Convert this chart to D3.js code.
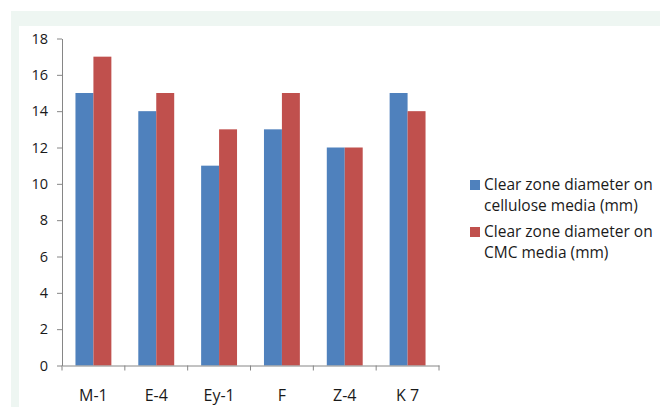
<!DOCTYPE html>
<html><head><meta charset="utf-8">
<script src="https://cdn.jsdelivr.net/npm/d3@7"></script>
<style>
html,body{margin:0;padding:0;background:#fff;}
svg{display:block;font-family:"Open Sans",sans-serif;}
</style></head>
<body>
<svg id="chart" width="660" height="407"></svg>
<script>
const categories = ["M-1","E-4","Ey-1","F","Z-4","K 7"];
const cellulose = [15,14,11,13,12,15];
const cmc = [17,15,13,15,12,14];
const legendLines = [["Clear zone diameter on","cellulose media (mm)"],["Clear zone diameter on","CMC media (mm)"]];
const yTicks = [0,2,4,6,8,10,12,14,16,18];
const colors = ["#4F81BD","#C0504D"];

const svg = d3.select("#chart");
// background panel
svg.append("rect").attr("x",11).attr("y",11).attr("width",649).attr("height",396).attr("fill","#eef6f2");
svg.append("rect").attr("x",19).attr("y",26).attr("width",641).attr("height",381).attr("fill","#ffffff");

const x0 = 62, x1 = 439, yTop = 38.5, yBot = 365.5;
const x = d3.scaleBand().domain(categories).range([x0,x1]).paddingInner(0).paddingOuter(0);
const y = d3.scaleLinear().domain([0,18]).range([yBot,yTop]);

const data = [cellulose,cmc];
const bw = x.bandwidth()/3.5;
data.forEach((vals,si)=>{
  svg.append("g").selectAll("rect").data(vals).join("rect")
    .attr("x",(d,i)=>x(categories[i]) + x.bandwidth()/2 - bw + si*bw)
    .attr("width",bw)
    .attr("y",d=>y(d))
    .attr("height",d=>yBot - y(d))
    .attr("fill",colors[si]);
});

// y axis
const yAxis = d3.axisLeft(y).tickValues(yTicks).tickSize(5).tickPadding(9).tickSizeOuter(0);
const gy = svg.append("g").attr("transform",`translate(${x0},0)`).call(yAxis);
gy.select(".domain").attr("stroke","#868686");
gy.selectAll(".tick line").attr("stroke","#868686");
gy.selectAll(".tick text").attr("fill","#1a1a1a").attr("font-size","14.5px").attr("font-family","Open Sans, sans-serif");

// x axis
const xAxis = d3.axisBottom(x).tickSize(0).tickPadding(24).tickSizeOuter(0);
const gx = svg.append("g").attr("transform",`translate(0,${yBot})`).call(xAxis);
gx.select(".domain").attr("stroke","#868686");
gx.selectAll(".tick text").attr("fill","#1a1a1a").attr("font-size","16px").attr("font-family","Open Sans, sans-serif");
// boundary ticks
const bounds = categories.map(c=>x(c)).concat([x1]);
gx.selectAll(".btick").data(bounds).join("line").attr("class","btick")
  .attr("x1",d=>d).attr("x2",d=>d).attr("y1",0).attr("y2",5).attr("stroke","#868686");

// legend
const leg = svg.append("g");
const legY = [190, 237];
legendLines.forEach((lines,i)=>{
  leg.append("rect").attr("x",470).attr("y",legY[i]-10).attr("width",10).attr("height",10).attr("fill",colors[i]);
  const t = leg.append("text").attr("x",484).attr("y",legY[i]).attr("font-size","15.5px").attr("fill","#1a1a1a");
  lines.forEach((l,j)=>t.append("tspan").attr("x",484).attr("dy",j===0?0:21).text(l));
});
</script>
</body></html>
